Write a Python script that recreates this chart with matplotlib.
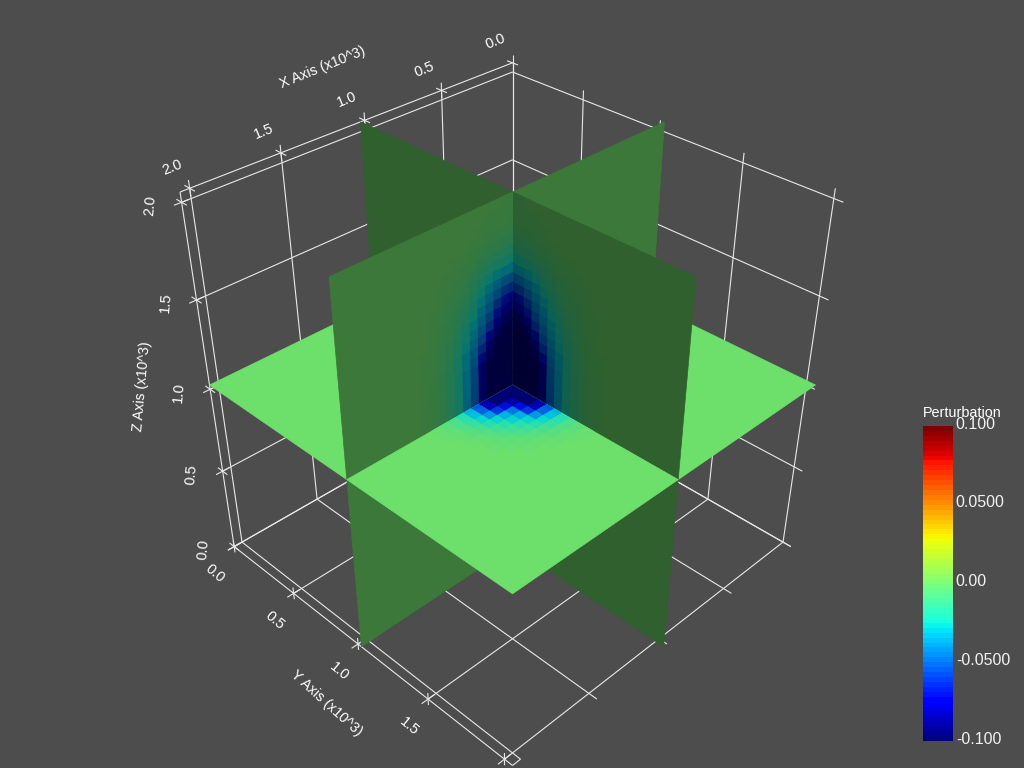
import numpy as np
import matplotlib
matplotlib.use('Agg')
import matplotlib.pyplot as plt
from matplotlib.cm import ScalarMappable
from matplotlib.collections import PolyCollection, LineCollection
from matplotlib.colors import Normalize
from matplotlib.transforms import ScaledTranslation

plt.rcParams['font.family'] = ['Liberation Sans', 'DejaVu Sans']

# axis ticks, data extent runs one cell past the last tick
tick_values = [0, 500, 1000, 1500, 2000]
tick_labels = ['0.0', '0.5', '1.0', '1.5', '2.0']
y_tick_labels = ['0.0', '0.5', '1.0', '1.5', '']
extent = 2050
cell = 50

cbar_ticks = [-0.1, -0.05, 0.0, 0.05, 0.1]
cbar_labels = ['-0.100', '-0.0500', '0.00', '0.0500', '0.100']

# perturbation (x -1000), rows go up from the mid
# plane, columns go out from the centre line
wall_values = [
    [100, 100, 100, 100, 90, 52, 35, 22, 13, 7, 3, 1],
    [100, 100, 100, 100, 88, 50, 35, 21, 13, 7, 3, 1],
    [100, 100, 100, 100, 87, 49, 34, 20, 12, 6, 3, 1],
    [100, 100, 100, 100, 86, 48, 33, 20, 12, 6, 3, 1],
    [100, 100, 100, 98, 85, 47, 33, 20, 12, 6, 3, 1],
    [100, 100, 100, 94, 72, 44, 31, 19, 11, 6, 3, 1],
    [100, 100, 98, 86, 60, 40, 29, 18, 10, 5, 2, 1],
    [100, 98, 92, 72, 50, 36, 26, 16, 9, 5, 2, 1],
    [97, 92, 80, 58, 43, 32, 23, 14, 8, 4, 2, 1],
    [88, 82, 68, 49, 38, 28, 20, 12, 7, 4, 2, 0],
    [75, 70, 57, 42, 33, 24, 16, 10, 6, 3, 1, 0],
    [60, 56, 46, 36, 28, 20, 13, 8, 5, 2, 1, 0],
    [45, 43, 37, 30, 23, 16, 10, 6, 4, 2, 1, 0],
    [32, 31, 28, 24, 17, 12, 7, 4, 3, 1, 0, 0],
    [22, 21, 19, 16, 12, 8, 5, 3, 2, 1, 0, 0],
    [14, 13, 12, 10, 8, 5, 3, 2, 1, 0, 0, 0],
    [8, 8, 7, 6, 5, 3, 2, 1, 0, 0, 0, 0],
    [5, 4, 4, 3, 2, 1, 0, 0, 0, 0, 0, 0],
    [3, 2, 2, 2, 1, 0, 0, 0, 0, 0, 0, 0],
    [2, 1, 1, 1, 0, 0, 0, 0, 0, 0, 0, 0],
    [1, 1, 0, 0, 0, 0, 0, 0, 0, 0, 0, 0],
]

# same for the horizontal slice, symmetric in x and y
floor_values = [
    [100, 100, 100, 100, 88, 55, 34, 20, 10, 4, 1, 0],
    [100, 100, 100, 100, 85, 52, 32, 18, 9, 4, 1, 0],
    [100, 100, 88, 72, 62, 40, 26, 14, 7, 3, 1, 0],
    [100, 100, 72, 48, 35, 27, 18, 10, 5, 2, 0, 0],
    [88, 85, 62, 35, 28, 18, 12, 6, 3, 1, 0, 0],
    [55, 52, 40, 27, 18, 12, 8, 4, 2, 0, 0, 0],
    [34, 32, 26, 18, 12, 8, 4, 3, 1, 0, 0, 0],
    [20, 18, 14, 10, 6, 4, 3, 1, 0, 0, 0, 0],
    [10, 9, 7, 5, 3, 2, 1, 0, 0, 0, 0, 0],
    [4, 4, 3, 2, 1, 0, 0, 0, 0, 0, 0, 0],
    [1, 1, 1, 0, 0, 0, 0, 0, 0, 0, 0, 0],
    [0, 0, 0, 0, 0, 0, 0, 0, 0, 0, 0, 0],
]

bg = '#4d4d4d'
line_col = '#e8e8e8'
shade = {0: 0.375, 1: 0.47, 2: 0.875}   # slice normal axis -> lighting

cmap = plt.get_cmap('jet', 256)
bar_cmap = plt.get_cmap('jet', 64)
norm = Normalize(-0.1, 0.1)


def project(x, y, z):
    # camera fitted to the corners of the box, gives pixels
    h = extent / 2
    a, b, c = x / h - 1, y / h - 1, z / h - 1
    w = 1 - 0.0858 * (a + b) - 0.0886 * c
    return 512.5 + 151.5 * (b - a) / w, 385 + (86.5 * (a + b) - 175.9 * c) / w


def seg(p0, p1):
    return [project(*p0), project(*p1)]


def lit(value, axis):
    r, g, b, _ = cmap(norm(value))
    f = shade[axis]
    return (r * f, g * f, b * f)


def slice_point(axis, s, t):
    # offsets s, t from the centre, on the slice with this normal axis
    h = extent / 2
    if axis == 0:
        return project(h, h + s, h + t)
    if axis == 1:
        return project(h + s, h, h + t)
    return project(h + s, h + t, h)


def rect(axis, s0, s1, t0, t1):
    return [slice_point(axis, s0, t0), slice_point(axis, s1, t0),
            slice_point(axis, s1, t1), slice_point(axis, s0, t1)]


def edge(i):
    return max(0, (i - 0.5) * cell)


fig = plt.figure(figsize=(10.24, 7.68), dpi=100, facecolor=bg)
ax = fig.add_axes([0, 0, 1, 1])
ax.set_xlim(0, 1024)
ax.set_ylim(768, 0)
ax.axis('off')

# grid on the three back walls
lines = []
for v in tick_values:
    lines.append(seg((v, 0, 0), (v, 0, extent)))
    lines.append(seg((0, 0, v), (extent, 0, v)))
    lines.append(seg((0, v, 0), (0, v, extent)))
    lines.append(seg((0, 0, v), (0, extent, v)))
    lines.append(seg((v, 0, 0), (v, extent, 0)))
    lines.append(seg((0, v, 0), (extent, v, 0)))
lines.append(seg((tick_values[-1], extent, 0), (extent, extent, 0)))

# axis lines and tick crosses
arm = 40
lines.append(seg((0, 0, extent), (extent, 0, extent)))
lines.append(seg((extent, 0, 0), (extent, 0, extent)))
lines.append(seg((extent, 0, 0), (extent, extent, 0)))
for v in tick_values:
    lines.append(seg((v, -arm, extent), (v, arm, extent)))
    lines.append(seg((v, 0, extent - arm), (v, 0, extent + arm)))
    lines.append(seg((extent - arm, 0, v), (extent + arm, 0, v)))
    lines.append(seg((extent, -arm, v), (extent, arm, v)))
    lines.append(seg((extent - arm, v, 0), (extent + arm, v, 0)))
    lines.append(seg((extent, v, -arm), (extent, v, arm)))
ax.add_collection(LineCollection(lines, colors=line_col, linewidths=0.8, zorder=1))

# slices split in quadrants and painted back to front
h = extent / 2
quadrants = []
for axis in (0, 1, 2):
    for ss in (-1, 1):
        for st in (-1, 1):
            quadrants.append((ss + st, axis, ss, st))
quadrants.sort(key=lambda q: q[0])

polys = []
colors = []
for order, axis, ss, st in quadrants:
    polys.append(rect(axis, 0, ss * h, 0, st * h))
    colors.append(lit(0.0, axis))
    if ss == 1 and st == 1:
        table = floor_values if axis == 2 else wall_values
        for k, row in enumerate(table):
            for j, v in enumerate(row):
                if v == 0:
                    continue
                if axis == 2:
                    polys.append(rect(axis, edge(k), edge(k + 1), edge(j), edge(j + 1)))
                else:
                    polys.append(rect(axis, edge(j), edge(j + 1), edge(k), edge(k + 1)))
                colors.append(lit(-v / 1000, axis))
ax.add_collection(PolyCollection(polys, facecolors=colors, edgecolors=colors,
                                 linewidths=0.5, zorder=2))

# tick labels
for v, lab in zip(tick_values, tick_labels):
    u, w = project(v, 0, extent)
    ax.text(u - 17.5, w - 21, lab, color='white', fontsize=10.5, rotation=22,
            ha='center', va='center', rotation_mode='anchor')
    u, w = project(extent, 0, v)
    ax.text(u - 31, w + 3, lab, color='white', fontsize=10.5, rotation=85,
            ha='center', va='center', rotation_mode='anchor')
for v, lab in zip(tick_values, y_tick_labels):
    if lab:
        u, w = project(extent, v, 0)
        ax.text(u - 19, w + 27, lab, color='white', fontsize=10.5, rotation=-40,
                ha='center', va='center', rotation_mode='anchor')

ax.text(323, 67, 'X Axis (x10^3)', color='white', fontsize=10.3, rotation=22,
        ha='center', va='center', rotation_mode='anchor')
ax.text(326, 703, 'Y Axis (x10^3)', color='white', fontsize=10.3, rotation=-42,
        ha='center', va='center', rotation_mode='anchor')
ax.text(142, 386, 'Z Axis (x10^3)', color='white', fontsize=10.3, rotation=85,
        ha='center', va='center', rotation_mode='anchor')

# scalar bar
ax.text(923, 413, 'Perturbation', color='white', fontsize=10.4, ha='left', va='center')
cax = fig.add_axes([923 / 1024, 1 - 741 / 768, 30 / 1024, 315 / 768])
cb = fig.colorbar(ScalarMappable(norm=norm, cmap=bar_cmap), cax=cax)
cb.outline.set_visible(False)
cb.set_ticks(cbar_ticks)
cb.set_ticklabels(cbar_labels)
cax.tick_params(length=0, pad=2, labelsize=11.5, labelcolor='#f2f2f2')
shift = ScaledTranslation(0, 2.5 / 72, fig.dpi_scale_trans)
for lbl in cax.get_yticklabels():
    lbl.set_transform(lbl.get_transform() + shift)

fig.savefig('out.png', dpi=100, facecolor=bg)
